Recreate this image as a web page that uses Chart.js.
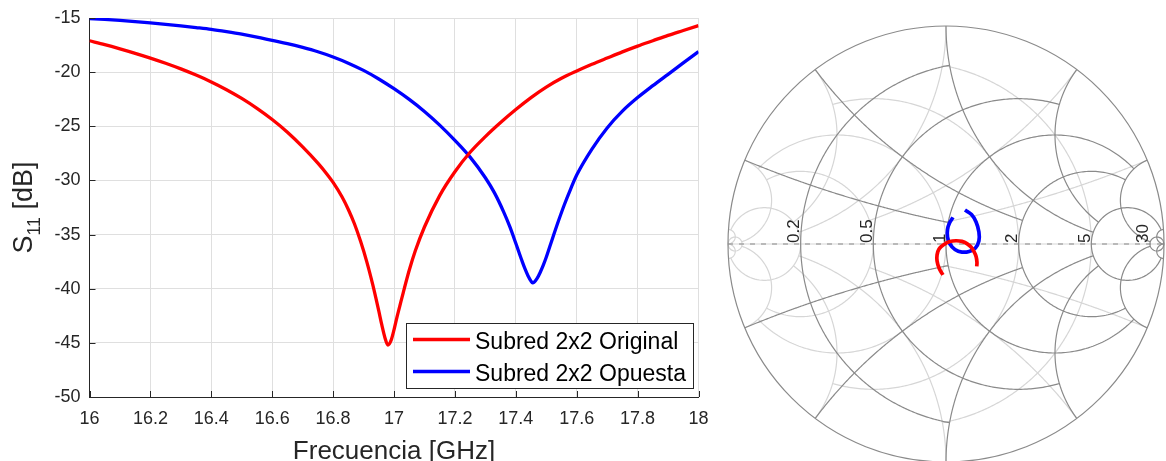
<!DOCTYPE html>
<html>
<head>
<meta charset="utf-8">
<script src="https://cdn.jsdelivr.net/npm/chart.js@4.4.1/dist/chart.umd.min.js"></script>
<style>
  html, body { margin: 0; padding: 0; background: #fff; }
  #wrap { position: relative; width: 1166px; height: 461px; overflow: hidden; }
  #s11Box { position: absolute; left: 0; top: 0; width: 712px; height: 461px; }
  #smithBox { position: absolute; left: 700px; top: 0; width: 466px; height: 461px; }
</style>
</head>
<body>
<div id="wrap">
  <div id="s11Box"><canvas id="s11Chart"></canvas></div>
  <div id="smithBox"><canvas id="smithChart"></canvas></div>
</div>
<script>
const seriesNames = ['Subred 2x2 Original', 'Subred 2x2 Opuesta'];

const freqOriginal = [16.00, 16.05, 16.10, 16.15, 16.20, 16.25, 16.30, 16.35, 16.40, 16.45, 16.50, 16.55, 16.60, 16.65, 16.70, 16.75, 16.78, 16.80, 16.83, 16.85, 16.87, 16.89, 16.91, 16.93, 16.94, 16.95, 16.96, 16.97, 16.98, 16.99, 17.00, 17.01, 17.02, 17.03, 17.05, 17.07, 17.10, 17.15, 17.20, 17.25, 17.30, 17.35, 17.40, 17.45, 17.50, 17.55, 17.60, 17.65, 17.70, 17.75, 17.80, 17.85, 17.90, 17.95, 18.00];
const s11Original = [-17.10, -17.46, -17.85, -18.26, -18.70, -19.18, -19.70, -20.27, -20.90, -21.62, -22.43, -23.35, -24.38, -25.55, -26.90, -28.40, -29.42, -30.18, -31.55, -32.68, -34.00, -35.60, -37.45, -39.60, -40.80, -42.05, -43.35, -44.50, -45.20, -44.80, -43.80, -42.60, -41.50, -40.40, -38.30, -36.50, -34.30, -31.40, -29.20, -27.40, -25.95, -24.65, -23.45, -22.35, -21.38, -20.57, -19.90, -19.28, -18.70, -18.13, -17.60, -17.10, -16.60, -16.15, -15.70];

const freqOpuesta = [16.00, 16.05, 16.10, 16.15, 16.20, 16.25, 16.30, 16.35, 16.40, 16.45, 16.50, 16.55, 16.60, 16.65, 16.70, 16.75, 16.80, 16.85, 16.90, 16.95, 17.00, 17.05, 17.10, 17.15, 17.20, 17.25, 17.30, 17.33, 17.36, 17.38, 17.40, 17.42, 17.43, 17.44, 17.45, 17.455, 17.46, 17.47, 17.48, 17.49, 17.50, 17.52, 17.54, 17.56, 17.58, 17.60, 17.65, 17.70, 17.75, 17.80, 17.85, 17.90, 17.95, 18.00];
const s11Opuesta = [-15.05, -15.13, -15.22, -15.33, -15.45, -15.58, -15.72, -15.88, -16.05, -16.26, -16.49, -16.76, -17.07, -17.37, -17.72, -18.12, -18.60, -19.17, -19.84, -20.63, -21.53, -22.52, -23.63, -24.89, -26.30, -27.85, -29.75, -31.15, -32.90, -34.25, -35.80, -37.40, -38.15, -38.80, -39.30, -39.45, -39.40, -39.05, -38.50, -37.85, -37.10, -35.40, -33.75, -32.20, -30.80, -29.50, -27.10, -25.15, -23.60, -22.35, -21.25, -20.20, -19.15, -18.10];

const xTicks = [16, 16.2, 16.4, 16.6, 16.8, 17, 17.2, 17.4, 17.6, 17.8, 18];
const yTicks = [-50, -45, -40, -35, -30, -25, -20, -15];

const gammaReOriginal = [-0.014, -0.032, -0.041, -0.041, -0.032, -0.009, 0.018, 0.046, 0.073, 0.096, 0.115, 0.128, 0.138, 0.142, 0.141];
const gammaImOriginal = [-0.142, -0.110, -0.078, -0.050, -0.023, -0.002, 0.011, 0.015, 0.012, 0.002, -0.014, -0.034, -0.057, -0.083, -0.103];
const gammaReOpuesta = [0.087, 0.117, 0.138, 0.151, 0.151, 0.135, 0.106, 0.073, 0.041, 0.018, 0.007, 0.007, 0.016, 0.032];
const gammaImOpuesta = [0.156, 0.135, 0.101, 0.055, 0.014, -0.018, -0.034, -0.037, -0.025, 0.000, 0.032, 0.067, 0.096, 0.122];

const smithLabelValues = [0.2, 0.5, 1, 2, 5, 30];

const textColor = '#262626';
const fontFamily = '"Liberation Sans", Arial, sans-serif';

// ---------- left chart ----------
const inwardTicks = {
  id: 'inwardTicks',
  afterDraw(chart) {
    const ctx = chart.ctx;
    const area = chart.chartArea;
    const sx = chart.scales.x, sy = chart.scales.y;
    ctx.save();
    ctx.strokeStyle = textColor;
    ctx.lineWidth = 1;
    ctx.beginPath();
    xTicks.forEach(v => {
      const p = Math.round(sx.getPixelForValue(v)) + 0.5;
      ctx.moveTo(p, area.bottom);
      ctx.lineTo(p, area.bottom - 6);
    });
    yTicks.forEach(v => {
      const p = Math.round(sy.getPixelForValue(v)) + 0.5;
      ctx.moveTo(area.left, p);
      ctx.lineTo(area.left + 6, p);
    });
    ctx.stroke();
    ctx.restore();
  }
};

const axisTitles = {
  id: 'axisTitles',
  afterDraw(chart) {
    const ctx = chart.ctx;
    const area = chart.chartArea;
    const big = '27px ' + fontFamily;
    const small = '18px ' + fontFamily;
    ctx.save();
    ctx.fillStyle = textColor;
    ctx.font = '26px ' + fontFamily;
    ctx.textAlign = 'center';
    ctx.textBaseline = 'alphabetic';
    ctx.fillText('Frecuencia [GHz]', (area.left + area.right) / 2, 459);

    // S11 [dB] with subscript, rotated
    ctx.translate(32, (area.top + area.bottom) / 2);
    ctx.rotate(-Math.PI / 2);
    ctx.textAlign = 'left';
    ctx.font = big;
    const wS = ctx.measureText('S').width;
    const wRest = ctx.measureText(' [dB]').width;
    ctx.font = small;
    const wSub = ctx.measureText('11').width;
    let x0 = -(wS + wSub + wRest) / 2;
    ctx.font = big;
    ctx.fillText('S', x0, 0);
    ctx.font = small;
    ctx.fillText('11', x0 + wS, 8);
    ctx.font = big;
    ctx.fillText(' [dB]', x0 + wS + wSub, 0);
    ctx.restore();
  }
};

const s11Legend = {
  id: 's11Legend',
  afterDatasetsDraw(chart) {
    const ctx = chart.ctx;
    const area = chart.chartArea;
    const w = 287, h = 65;
    const bx = area.right - 5.5 - w, by = area.bottom - 9 - h;
    ctx.save();
    ctx.fillStyle = '#fff';
    ctx.fillRect(bx, by, w, h);
    ctx.strokeStyle = textColor;
    ctx.lineWidth = 1;
    ctx.strokeRect(Math.round(bx) + 0.5, Math.round(by) + 0.5, w, h);
    ctx.font = '23px ' + fontFamily;
    ctx.textBaseline = 'alphabetic';
    chart.data.datasets.forEach((ds, i) => {
      const ly = by + 16.5 + i * 32;
      ctx.strokeStyle = ds.borderColor;
      ctx.lineWidth = 3.3;
      ctx.beginPath();
      ctx.moveTo(bx + 7, ly);
      ctx.lineTo(bx + 64, ly);
      ctx.stroke();
      ctx.fillStyle = '#000';
      ctx.fillText(ds.label, bx + 69, ly + 9.5);
    });
    ctx.restore();
  }
};

new Chart(document.getElementById('s11Chart'), {
  type: 'line',
  data: {
    datasets: [
      {
        label: seriesNames[0],
        data: freqOriginal.map((f, i) => ({ x: f, y: s11Original[i] })),
        borderColor: '#ff0000',
        borderWidth: 3.3,
        pointRadius: 0,
        cubicInterpolationMode: 'monotone'
      },
      {
        label: seriesNames[1],
        data: freqOpuesta.map((f, i) => ({ x: f, y: s11Opuesta[i] })),
        borderColor: '#0000ff',
        borderWidth: 3.3,
        pointRadius: 0,
        cubicInterpolationMode: 'monotone'
      }
    ]
  },
  options: {
    animation: false,
    responsive: true,
    maintainAspectRatio: false,
    layout: { padding: { top: 18, right: 13.5, left: 0, bottom: 0 } },
    plugins: { legend: { display: false }, tooltip: { enabled: false } },
    scales: {
      x: {
        type: 'linear',
        min: 16,
        max: 18,
        afterBuildTicks: s => { s.ticks = xTicks.map(v => ({ value: v })); },
        afterFit: s => { s.height = 64; s.paddingLeft = 0; s.paddingRight = 0; },
        grid: { color: '#dfdfdf', drawTicks: false },
        border: { color: textColor, width: 1 },
        ticks: {
          padding: 11,
          color: textColor,
          autoSkip: false,
          maxRotation: 0,
          font: { family: fontFamily, size: 18 },
          callback: v => String(v)
        }
      },
      y: {
        type: 'linear',
        min: -50,
        max: -15,
        afterBuildTicks: s => { s.ticks = yTicks.map(v => ({ value: v })); },
        afterFit: s => { s.width = 89.5; s.paddingTop = 0; s.paddingBottom = 0; },
        grid: { color: '#dfdfdf', drawTicks: false },
        border: { color: textColor, width: 1 },
        ticks: {
          padding: 9,
          color: textColor,
          font: { family: fontFamily, size: 18 },
          callback: v => String(v)
        }
      }
    }
  },
  plugins: [inwardTicks, axisTitles, s11Legend]
});

// ---------- Smith chart ----------
// grid circles: [value, clip limit]
const gridValues = [[0.2, 1], [0.5, 2], [1, 5], [2, 5], [5, 30], [30, Infinity]];

function zToGamma(r, x) {
  const den = (r + 1) * (r + 1) + x * x;
  return [(r * r - 1 + x * x) / den, 2 * x / den];
}
function resistanceArc(r, lim) {
  const pts = [], a = Math.atan(lim), n = 360;
  for (let i = 0; i <= n; i++) pts.push(zToGamma(r, Math.tan(-a + 2 * a * i / n)));
  return pts;
}
function reactanceArc(x, lim) {
  const pts = [], a = Math.atan(lim), n = 240;
  for (let i = 0; i <= n; i++) pts.push(zToGamma(Math.tan(a * i / n), x));
  return pts;
}

const smithGrid = {
  id: 'smithGrid',
  beforeDatasetsDraw(chart) {
    const ctx = chart.ctx;
    const sx = chart.scales.x, sy = chart.scales.y;
    const cx = sx.getPixelForValue(0), cy = sy.getPixelForValue(0);
    const R = sx.getPixelForValue(1) - cx;

    function stroke(pts, sign) {
      ctx.beginPath();
      pts.forEach((g, i) => {
        const X = sx.getPixelForValue(sign * g[0]);
        const Y = sy.getPixelForValue(sign * g[1]);
        if (i === 0) ctx.moveTo(X, Y); else ctx.lineTo(X, Y);
      });
      ctx.stroke();
    }
    function drawGrid(sign) {
      gridValues.forEach(([v, lim]) => {
        stroke(resistanceArc(v, lim), sign);
        stroke(reactanceArc(v, lim), sign);
        stroke(reactanceArc(-v, lim), sign);
      });
    }

    ctx.save();
    ctx.lineWidth = 1.2;

    // admittance grid (light)
    ctx.strokeStyle = '#d6d6d6';
    drawGrid(-1);
    ctx.beginPath();
    ctx.moveTo(cx - R, cy);
    ctx.lineTo(cx + R, cy);
    ctx.stroke();

    // impedance grid (dark)
    ctx.strokeStyle = '#8a8a8a';
    drawGrid(1);
    ctx.beginPath();
    ctx.arc(cx, cy, R, 0, Math.PI * 2);
    ctx.stroke();
    ctx.setLineDash([5, 6]);
    ctx.beginPath();
    ctx.moveTo(cx - R, cy);
    ctx.lineTo(cx + R, cy);
    ctx.stroke();
    ctx.setLineDash([]);

    // resistance labels
    ctx.fillStyle = textColor;
    ctx.font = '17px ' + fontFamily;
    ctx.textAlign = 'left';
    ctx.textBaseline = 'alphabetic';
    smithLabelValues.forEach(v => {
      const X = sx.getPixelForValue((v - 1) / (v + 1));
      ctx.save();
      ctx.translate(X - 1.5, cy - 1);
      ctx.rotate(-Math.PI / 2);
      ctx.fillText(String(v), 0, 0);
      ctx.restore();
    });
    ctx.restore();
  }
};

const pxPerUnit = 218, centerX = 246, centerY = 244; // centre inside this canvas
new Chart(document.getElementById('smithChart'), {
  type: 'scatter',
  data: {
    datasets: [
      {
        label: seriesNames[0],
        data: gammaReOriginal.map((re, i) => ({ x: re, y: gammaImOriginal[i] })),
        showLine: true,
        borderColor: '#ff0000',
        borderWidth: 3.7,
        pointRadius: 0,
        tension: 0.4
      },
      {
        label: seriesNames[1],
        data: gammaReOpuesta.map((re, i) => ({ x: re, y: gammaImOpuesta[i] })),
        showLine: true,
        borderColor: '#0000ff',
        borderWidth: 3.7,
        pointRadius: 0,
        tension: 0.4
      }
    ]
  },
  options: {
    animation: false,
    responsive: true,
    maintainAspectRatio: false,
    layout: { padding: 0 },
    plugins: { legend: { display: false }, tooltip: { enabled: false } },
    scales: {
      x: { display: false, min: -centerX / pxPerUnit, max: (466 - centerX) / pxPerUnit },
      y: { display: false, min: (centerY - 461) / pxPerUnit, max: centerY / pxPerUnit }
    }
  },
  plugins: [smithGrid]
});
</script>
</body>
</html>
